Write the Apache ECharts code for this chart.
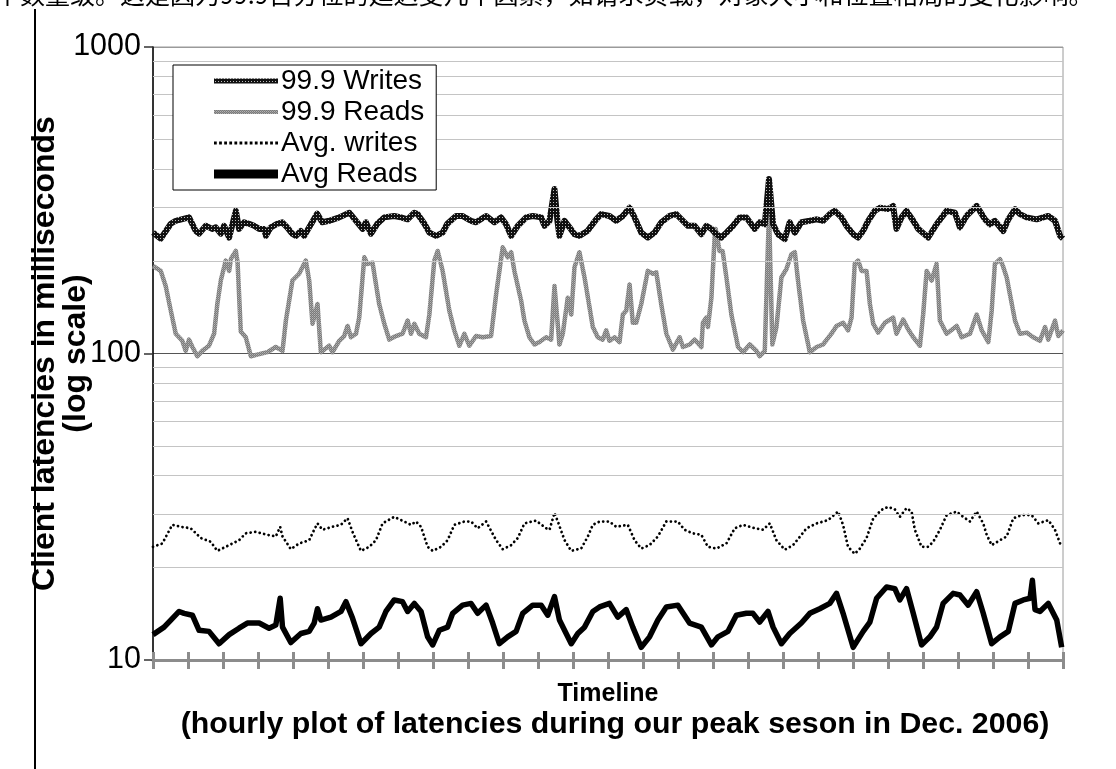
<!DOCTYPE html>
<html>
<head>
<meta charset="utf-8">
<script src="https://cdn.jsdelivr.net/npm/echarts@6/dist/echarts.min.js"></script>
<style>
html,body{margin:0;padding:0;background:#fff;}
#chart{width:1116px;height:769px;}
</style>
</head>
<body>
<div id="chart"></div>
<script>
// ---- data: [hour of the period, latency in ms] ----
const hourTicks = 24;           // one tick per day
const totalHours = 624;         // 26 days
const yTickValues = [10, 100, 1000];
const minorGrid = [20, 30, 40, 50, 60, 70, 80, 90, 200, 300, 400, 500, 600, 700, 800, 900];

const writes999 = [[0,248],[5.3,237],[12.2,265],[15.6,271],[24.7,278],[29.3,251],[31.6,246],[36.2,261],[40.5,255],[43.0,258],[46.5,246],[48.7,261],[52.2,239],[56.8,292],[59.0,255],[62.5,268],[65.9,265],[69.3,261],[72.8,255],[76.2,255],[77.4,242],[80.8,258],[85.1,265],[88.6,268],[92.0,258],[95.4,246],[98.0,242],[101.4,251],[103.7,242],[107.1,258],[112.6,286],[116.0,268],[120.8,271],[127.7,278],[134.6,288],[139.2,271],[143.7,255],[146.0,268],[149.5,246],[153.8,265],[158.6,278],[165.4,281],[170.0,278],[174.6,274],[179.2,288],[181.4,285],[186.1,265],[189.5,248],[194.1,242],[198.6,248],[201.8,265],[207.8,281],[212.1,281],[218.1,271],[221.5,268],[228.4,281],[234.1,268],[238.7,278],[242.1,264],[245.6,242],[246.7,239],[250.1,261],[255.9,278],[260.4,281],[266.2,278],[268.4,261],[271.9,271],[275.3,344],[277.3,271],[278.7,242],[282.2,271],[285.6,258],[289.0,245],[292.4,242],[297.9,251],[303.9,274],[307.3,285],[313.0,281],[317.6,271],[322.2,281],[326.8,299],[330.2,278],[334.8,248],[339.3,239],[343.9,248],[348.5,268],[354.2,281],[358.8,285],[363.4,271],[366.8,261],[371.4,261],[376.0,245],[379.4,261],[382.9,255],[385.1,248],[389.7,239],[393.2,248],[397.7,261],[402.3,278],[406.9,278],[410.3,264],[412.6,255],[416.0,268],[419.5,264],[422.4,371],[425.2,264],[428.6,245],[433.2,236],[436.6,268],[440.1,248],[444.6,268],[450.4,271],[455.0,274],[459.5,271],[464.1,285],[467.5,292],[472.1,278],[475.5,261],[480.1,245],[483.5,239],[486.9,251],[490.4,271],[494.9,292],[498.4,299],[504.1,296],[507.5,303],[509.8,255],[513.3,278],[516.7,292],[521.3,271],[524.7,255],[531.6,239],[537.3,264],[544.2,292],[549.9,288],[553.3,258],[557.9,281],[564.8,303],[570.5,274],[573.9,264],[577.3,271],[583.0,251],[586.5,274],[591.1,296],[594.5,285],[599.1,278],[605.9,274],[613.9,281],[618.5,271],[622.0,242],[624,237]];

const reads999 = [[0,193],[5.3,186],[8.7,166],[12.2,138],[15.6,116],[20.1,110],[22.4,102],[24.7,111],[27.0,105],[30.4,98],[33.8,102],[38.4,106],[41.9,116],[44.1,145],[46.5,173],[49.9,201],[52.2,186],[53.5,204],[56.8,216],[58.0,198],[60.2,118],[63.6,113],[67.1,98],[72.8,99.5],[78.5,101],[84.2,105],[88.8,102],[91.1,128],[95.6,173],[100.2,182],[104.8,201],[107.1,173],[109.4,125],[112.8,145],[115.1,101],[120.8,106],[123.1,101],[127.7,110],[131.1,114],[133.4,123],[135.7,113],[139.2,116],[141.4,131],[144.9,206],[147.1,196],[150.5,198],[155.1,145],[158.6,125],[162.0,111],[166.6,114],[171.1,116],[174.6,128],[176.9,116],[179.2,125],[182.6,116],[187.2,113],[189.5,134],[192.9,201],[195.2,216],[198.6,186],[203.2,138],[206.6,119],[210.1,106],[213.5,116],[216.9,106],[221.5,114],[226.1,113],[231.8,114],[235.3,156],[239.8,222],[243.2,206],[245.6,214],[247.8,186],[252.4,149],[254.7,128],[258.1,113],[261.6,107],[265.0,109],[269.6,113],[273.0,111],[275.3,166],[278.7,107],[281.0,116],[284.4,152],[286.8,134],[289.0,191],[292.4,214],[295.9,177],[297.0,177],[301.6,122],[305.0,113],[308.4,111],[310.8,119],[313.0,110],[316.5,113],[319.9,109],[322.2,134],[324.5,138],[326.8,168],[329.0,126],[331.4,126],[334.8,145],[339.3,186],[342.8,182],[345.1,184],[348.5,145],[352.0,116],[356.5,103],[361.1,113],[363.4,105],[368.0,107],[371.4,111],[376.0,105],[377.1,126],[379.4,131],[380.5,122],[382.9,152],[385.1,239],[385.8,255],[388.5,216],[390.6,216],[393.2,177],[396.6,134],[401.2,105],[404.6,101],[409.2,107],[413.8,102],[416.0,98],[419.5,102],[422.4,292],[424.7,107],[427.5,122],[430.9,177],[434.4,189],[437.8,211],[440.1,214],[442.3,173],[445.8,128],[450.4,101],[455.0,105],[459.5,107],[465.2,116],[468.7,123],[473.2,126],[476.6,119],[479.0,131],[481.2,196],[483.5,201],[485.9,186],[489.3,186],[491.6,145],[493.9,125],[497.3,117],[501.9,126],[507.5,131],[509.8,116],[514.4,129],[517.8,120],[521.3,113],[525.9,106],[528.1,134],[530.5,186],[533.9,173],[537.3,196],[539.6,128],[544.2,116],[551.1,123],[554.5,113],[560.2,116],[564.8,134],[568.3,119],[572.8,109],[575.1,138],[577.3,196],[580.8,203],[582.8,193],[585.4,177],[591.1,128],[594.5,116],[599.1,117],[603.6,113],[608.2,110],[611.7,122],[613.9,111],[618.5,128],[620.8,114],[624,119]];

const avgWrites = [[0,23.4],[6.4,24.0],[13.2,27.6],[19.0,27.2],[25.9,26.9],[32.7,25.0],[39.6,24.3],[44.1,22.7],[52.2,23.7],[59.0,24.6],[63.6,25.9],[70.5,26.2],[78.5,25.6],[84.2,25.3],[87.2,27.2],[88.8,25.3],[94.5,23.0],[100.2,24.0],[107.1,24.6],[110.5,26.6],[112.8,27.9],[116.2,26.6],[123.1,27.2],[128.9,27.6],[133.4,29.0],[136.8,26.2],[140.3,24.0],[142.6,22.7],[148.3,23.4],[152.9,24.6],[157.4,27.9],[165.4,29.3],[172.3,28.3],[176.9,27.6],[180.3,28.3],[183.8,27.2],[188.3,23.4],[191.8,22.7],[197.5,23.4],[202.0,24.6],[206.6,27.6],[213.5,28.3],[218.1,28.3],[222.6,26.9],[228.4,28.3],[235.3,24.6],[239.8,23.0],[245.6,23.7],[250.1,25.0],[254.7,27.9],[262.7,28.5],[269.6,26.9],[271.9,26.6],[275.3,30.2],[277.6,28.3],[282.2,24.6],[286.8,22.7],[293.6,23.1],[298.2,25.3],[301.6,27.6],[306.2,28.3],[313.0,28.3],[317.6,27.2],[325.6,27.6],[330.2,24.6],[334.8,23.1],[340.5,23.7],[346.2,25.3],[352.0,28.3],[359.9,28.3],[364.5,26.6],[370.2,25.9],[376.0,25.6],[380.5,23.4],[386.3,23.1],[393.2,24.0],[398.9,26.9],[404.6,27.6],[411.4,27.0],[418.3,26.6],[422.9,27.9],[427.5,24.6],[433.2,22.9],[438.9,23.7],[444.6,25.6],[448.1,26.9],[455.0,27.9],[462.9,28.6],[469.8,30.5],[473.2,27.6],[476.6,23.4],[481.2,22.2],[484.7,23.1],[489.3,25.0],[493.9,29.0],[499.6,30.9],[504.1,31.6],[508.7,31.0],[512.1,29.3],[516.7,31.3],[520.2,30.5],[522.4,26.6],[527.0,23.4],[531.6,23.4],[535.0,24.3],[539.6,26.6],[544.2,29.7],[551.1,30.5],[555.6,29.3],[560.2,28.3],[564.8,30.5],[569.3,27.9],[571.7,25.6],[575.1,23.7],[580.8,24.6],[585.4,25.3],[589.9,29.0],[595.7,29.7],[602.5,29.7],[607.1,27.9],[614.0,28.6],[618.5,26.6],[622.0,24.0]];

const avgReads = [[0,12.1],[7.6,12.8],[12.2,13.5],[17.9,14.4],[21.3,14.2],[27.0,14.0],[31.6,12.5],[38.4,12.4],[45.3,11.3],[52.2,12.1],[59.0,12.7],[64.7,13.2],[72.8,13.2],[79.6,12.7],[84.2,13.0],[87.2,15.9],[88.8,12.8],[94.5,11.4],[101.4,12.2],[107.1,12.4],[110.5,13.2],[112.8,14.7],[115.1,13.5],[122.0,13.8],[128.9,14.4],[132.3,15.5],[136.8,13.7],[142.6,11.3],[149.5,12.2],[155.1,12.8],[159.7,14.4],[165.4,15.7],[171.1,15.5],[174.6,14.4],[179.2,15.3],[183.8,14.4],[188.3,11.9],[191.8,11.2],[196.3,12.5],[202.0,12.8],[205.5,14.2],[212.3,15.1],[218.1,15.3],[222.6,14.2],[228.4,15.1],[232.9,13.2],[237.5,11.3],[243.2,11.9],[249.0,12.4],[253.5,14.2],[260.4,15.1],[266.2,15.1],[270.7,14.0],[275.3,16.1],[278.7,13.5],[283.3,12.2],[286.8,11.3],[291.3,12.2],[295.9,12.8],[301.6,14.4],[306.2,14.9],[313.0,15.3],[318.7,13.8],[324.5,14.6],[329.0,12.8],[334.8,11.0],[340.5,11.9],[346.2,13.5],[352.0,14.9],[359.9,15.1],[367.9,13.2],[376.0,12.8],[382.9,11.2],[387.4,11.9],[394.3,12.4],[400.0,14.0],[406.9,14.2],[411.4,14.2],[416.0,13.3],[421.7,14.4],[425.2,12.8],[430.9,11.3],[436.6,12.2],[444.6,13.2],[450.4,14.2],[457.2,14.7],[464.1,15.3],[468.7,16.5],[473.2,14.2],[480.1,11.0],[487.0,12.4],[491.6,13.3],[496.2,15.9],[503.0,17.3],[508.7,17.1],[512.1,15.7],[516.7,17.1],[521.3,14.2],[527.0,11.2],[532.7,11.9],[537.3,12.8],[541.8,15.3],[548.7,16.5],[553.3,16.3],[559.0,15.1],[564.8,16.7],[569.3,14.2],[575.1,11.3],[580.8,11.9],[586.5,12.4],[591.1,15.3],[596.8,15.7],[601.4,15.9],[603.0,18.2],[604.8,14.6],[608.2,14.4],[613.9,15.3],[619.7,13.5],[623.1,11.0]];

const seriesNames = ['99.9 Writes', '99.9 Reads', 'Avg. writes', 'Avg Reads'];
const yTitle = 'Client latencies in milliseconds\n(log scale)';
const xTitleLines = ['Timeline', '(hourly plot of latencies during our peak seson in Dec. 2006)'];
const topText = '个数量级。这是因为99.9百分位的延迟受几个因素，如请求负载，对象大小和位置格局的变化影响。';

// ---- styles ----
const FONT = '"Liberation Sans", Arial, sans-serif';

function makePattern(size, base, dots) {
  const c = document.createElement('canvas');
  c.width = size; c.height = size;
  const g = c.getContext('2d');
  g.fillStyle = base; g.fillRect(0, 0, size, size);
  dots.forEach(d => { g.fillStyle = d[2]; g.fillRect(d[0], d[1], 1, 1); });
  return {image: c, repeat: 'repeat'};
}
const writesTex = makePattern(3, '#101010', [[1, 1, '#bdbdbd']]);
const readsTex = makePattern(2, '#7a7a7a', [[0, 0, '#b4b4b4'], [1, 1, '#9a9a9a']]);

// legend sample shapes (icon paths)
const barIcon = 'path://M0,0L64,0L64,5L0,5Z';
const thinBarIcon = 'path://M0,0L64,0L64,4L0,4Z';
let dotsPath = 'path://';
for (let i = 0; i < 13; i++) { dotsPath += 'M' + (i * 4.8) + ',0h2.6v2.6h-2.6Z'; }
const shortBarIcon = 'path://M0,0L43,0L43,6L0,6Z';

const chart = echarts.init(document.getElementById('chart'), null, {renderer: 'canvas'});
const gridRect = {left: 153, top: 47, width: 910, height: 613};

const option = {
  animation: false,
  backgroundColor: '#ffffff',
  textStyle: {fontFamily: FONT},
  grid: [
    Object.assign({show: true, borderColor: '#9a9a9a', borderWidth: 1, backgroundColor: 'transparent',
                   containLabel: false, outerBoundsMode: 'none'}, gridRect),
    Object.assign({show: false, containLabel: false, outerBoundsMode: 'none'}, gridRect)
  ],
  graphic: [
    {type: 'text', left: -5, top: -18, silent: true,
     style: {text: topText, font: '25px "Noto Sans CJK SC"', fill: '#000'}},
    {type: 'line', silent: true, shape: {x1: 35, y1: 9, x2: 35, y2: 769},
     style: {stroke: '#000', lineWidth: 2}}
  ],
  legend: {
    data: [
      {name: seriesNames[0], icon: barIcon, itemStyle: {color: writesTex}},
      {name: seriesNames[1], icon: thinBarIcon, itemStyle: {color: readsTex}},
      {name: seriesNames[2], icon: dotsPath, itemStyle: {color: '#000'}},
      {name: seriesNames[3], icon: shortBarIcon, itemStyle: {color: '#000'}}
    ],
    orient: 'vertical',
    left: 173, top: 65,
    backgroundColor: '#fff',
    borderColor: '#000', borderWidth: 1, borderRadius: 0,
    padding: [2, 12, 2, 41],
    itemGap: 3,
    itemWidth: 64, itemHeight: 14,
    textStyle: {fontSize: 28, color: '#000', fontFamily: FONT, padding: [0, 0, 0, -2]},
    selectedMode: false,
    z: 10
  },
  xAxis: [
    {
      type: 'value', gridIndex: 0, min: 0, max: totalHours, interval: hourTicks,
      axisLine: {show: true, onZero: false, lineStyle: {color: '#8c8c8c', width: 3}},
      axisTick: {show: true, inside: false, length: 9, lineStyle: {color: '#8c8c8c', width: 3}},
      axisLabel: {show: false},
      splitLine: {show: false},
      name: '{a|' + xTitleLines[0] + '}\n{b|' + xTitleLines[1] + '}', nameLocation: 'middle', nameGap: 19,
      nameMoveOverlap: false,
      nameTextStyle: {
        color: '#000', fontFamily: FONT, fontWeight: 'bold', align: 'center',
        rich: {
          a: {fontSize: 25, fontWeight: 'bold', lineHeight: 30, fontFamily: FONT, color: '#000'},
          b: {fontSize: 30.3, fontWeight: 'bold', lineHeight: 32, fontFamily: FONT, color: '#000', padding: [0, 0, 0, 14]}
        }
      }
    },
    {
      type: 'value', gridIndex: 1, min: 0, max: totalHours, interval: hourTicks,
      axisLine: {show: false},
      axisTick: {show: true, inside: true, length: 8, lineStyle: {color: '#8c8c8c', width: 3}},
      axisLabel: {show: false},
      splitLine: {show: false}
    }
  ],
  yAxis: [
    {
      type: 'log', logBase: 10, gridIndex: 0, min: yTickValues[0], max: yTickValues[yTickValues.length - 1],
      axisLine: {show: true, onZero: false, lineStyle: {color: '#000', width: 1.5}},
      axisTick: {show: true, inside: false, length: 9, lineStyle: {color: '#333', width: 1.5}},
      axisLabel: {show: true, fontSize: 30.5, color: '#000', margin: 12, fontFamily: FONT,
                  formatter: v => String(Math.round(v))},
      splitLine: {show: true, lineStyle: {color: ['#8c8c8c', '#555555', '#9a9a9a'], width: 1}},
      name: yTitle, nameLocation: 'middle', nameRotate: 90, nameGap: 61,
      nameMoveOverlap: false,
      nameTextStyle: {fontSize: 32, fontWeight: 'bold', color: '#000', lineHeight: 31, fontFamily: FONT}
    },
    {type: 'log', logBase: 10, gridIndex: 1, min: 10, max: 1000, show: false}
  ],
  series: [
    {
      name: 'minor-grid', type: 'line', data: [], xAxisIndex: 0, yAxisIndex: 0, z: 1,
      markLine: {
        silent: true, symbol: ['none', 'none'], label: {show: false}, animation: false,
        lineStyle: {color: '#c4c4c4', width: 1, type: 'solid'},
        data: minorGrid.map(v => ({yAxis: v}))
      }
    },
    {
      name: seriesNames[1], type: 'line', data: reads999, showSymbol: false, symbol: 'none', z: 3,
      lineStyle: {color: readsTex, width: 4.5, join: 'round'}, itemStyle: {color: readsTex}
    },
    {
      name: seriesNames[0], type: 'line', data: writes999, showSymbol: false, symbol: 'none', z: 4,
      lineStyle: {color: writesTex, width: 6, join: 'round'}, itemStyle: {color: writesTex}
    },
    {
      name: seriesNames[2], type: 'line', data: avgWrites, showSymbol: false, symbol: 'none', z: 3,
      lineStyle: {color: '#000', width: 2.8, type: [0.01, 4.6], cap: 'round', join: 'round'}, itemStyle: {color: '#000'}
    },
    {
      name: seriesNames[3], type: 'line', data: avgReads, showSymbol: false, symbol: 'none', z: 3,
      lineStyle: {color: '#000', width: 5.5, join: 'round'}, itemStyle: {color: '#000'}
    }
  ]
};
chart.setOption(option);
</script>
</body>
</html>
